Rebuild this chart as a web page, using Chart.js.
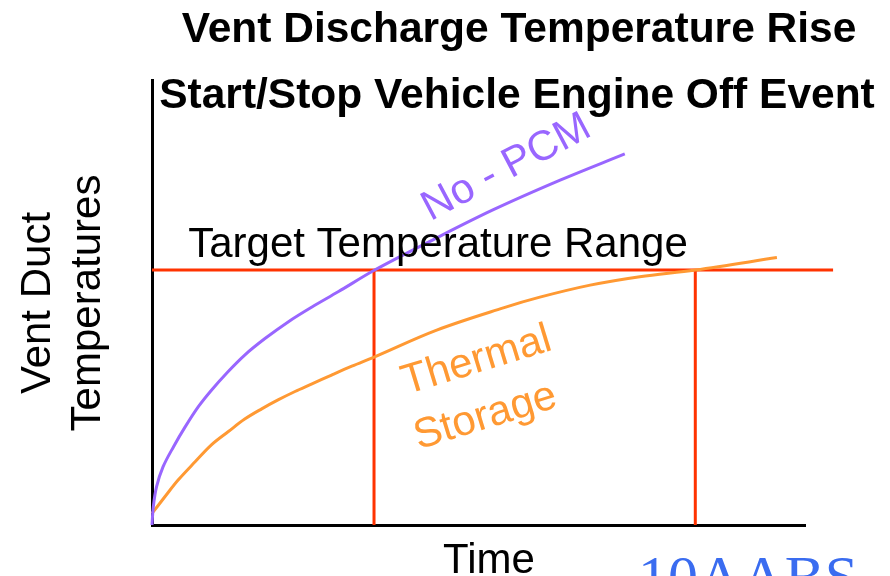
<!DOCTYPE html>
<html lang="en">
<head>
    <meta charset="UTF-8">
    <title>Vent Discharge Temperature Rise</title>
    <script src="https://cdn.jsdelivr.net/npm/chart.js"></script>
    <style>
        body {
            margin: 0;
            padding: 0;
            background-color: #ffffff;
        }
        canvas {
            display: block;
        }
    </style>
</head>
<body>
    <canvas id="ventChart" width="890" height="576"></canvas>
<script>
    // Time (arbitrary units, 0..100) and vent temperature (arbitrary units, 0..100)
    const noPcmTime = [0, 0.2, 0.7, 1.7, 3.3, 5.1, 7.1, 9.1, 11.6, 14.2, 17.3, 20.9, 24.5, 28.5, 34.1, 42.1, 52.2, 62.5, 72.4];
    const noPcmTemp = [0, 4.1, 8.6, 13.1, 17.6, 22.1, 26.6, 30.3, 34.4, 38.2, 41.9, 45.7, 49.0, 52.4, 57.3, 63.4, 70.8, 77.5, 83.4];

    const storageTime = [0, 2, 4, 6.6, 9.1, 11.7, 14.2, 16.8, 19.3, 21.9, 24.5, 27.5, 30.6, 34.1, 43.6, 53.8, 59.4, 67.1, 74.7, 83.2, 95.7];
    const storageTemp = [2.6, 6.4, 10.1, 14.2, 18, 21, 23.8, 26.1, 28.1, 30, 31.7, 33.7, 35.7, 37.8, 43.8, 48.8, 51.2, 53.9, 55.8, 57.3, 60.1];

    const targetTemp = 57.3;
    const targetLineEnd = 104.3;
    const noPcmReach = 34;      // time No-PCM hits target
    const storageReach = 83.2;  // time thermal storage hits target

    const RED = "#ff3300";
    const PURPLE = "#9966ff";
    const ORANGE = "#ff9933";
    const FONT = "'Liberation Sans', Arial, sans-serif";

    function pts(xs, ys) {
        return xs.map((x, i) => ({ x: x, y: ys[i] }));
    }

    // text labels drawn on top of the chart
    const labelsPlugin = {
        id: "labels",
        afterDraw(chart) {
            const ctx = chart.ctx;
            const ys = chart.scales.y;
            ctx.save();
            ctx.textAlign = "center";
            ctx.textBaseline = "alphabetic";

            ctx.fillStyle = "#000";
            ctx.font = "bold 42.5px " + FONT;
            ctx.fillText("Vent Discharge Temperature Rise", 519, 42);
            ctx.fillText("Start/Stop Vehicle Engine Off Event", 517, 108);

            ctx.font = "42px " + FONT;
            ctx.fillText("Target Temperature Range", 438, ys.getPixelForValue(targetTemp) - 13);
            ctx.fillText("Time", 489, 573);

            // y axis title, two lines
            ctx.save();
            ctx.translate(50, 303);
            ctx.rotate(-Math.PI / 2);
            ctx.fillText("Vent Duct", 0, 0);
            ctx.fillText("Temperatures", 0, 50);
            ctx.restore();

            // curve labels
            ctx.save();
            ctx.fillStyle = PURPLE;
            ctx.translate(512, 178);
            ctx.rotate(-28 * Math.PI / 180);
            ctx.fillText("No - PCM", 0, 0);
            ctx.restore();

            ctx.save();
            ctx.fillStyle = ORANGE;
            ctx.translate(480, 372);
            ctx.rotate(-17 * Math.PI / 180);
            ctx.fillText("Thermal", 0, 0);
            ctx.fillText("Storage", -8, 56);
            ctx.restore();

            ctx.fillStyle = "#3a6cf0";
            ctx.font = "60px 'Liberation Serif', 'Times New Roman', serif";
            ctx.textAlign = "left";
            ctx.fillText("10AABS", 638, 597);
            ctx.restore();
        }
    };

    new Chart(document.getElementById("ventChart"), {
        type: "line",
        data: {
            datasets: [
                {
                    label: "No - PCM",
                    data: pts(noPcmTime, noPcmTemp),
                    borderColor: PURPLE,
                    borderWidth: 3,
                    tension: 0.35,
                    pointRadius: 0,
                    clip: false
                },
                {
                    label: "Thermal Storage",
                    data: pts(storageTime, storageTemp),
                    borderColor: ORANGE,
                    borderWidth: 3,
                    tension: 0.35,
                    pointRadius: 0,
                    clip: false
                },
                {
                    label: "Target",
                    data: [{ x: 0, y: targetTemp }, { x: targetLineEnd, y: targetTemp }],
                    borderColor: RED,
                    borderWidth: 3,
                    pointRadius: 0,
                    clip: false
                },
                {
                    label: "No-PCM reach",
                    data: [{ x: noPcmReach, y: targetTemp }, { x: noPcmReach, y: 0 }],
                    borderColor: RED,
                    borderWidth: 3,
                    pointRadius: 0,
                    clip: false
                },
                {
                    label: "Storage reach",
                    data: [{ x: storageReach, y: targetTemp }, { x: storageReach, y: 0 }],
                    borderColor: RED,
                    borderWidth: 3,
                    pointRadius: 0,
                    clip: false
                }
            ]
        },
        options: {
            responsive: false,
            animation: false,
            layout: {
                padding: { left: 144, right: 85, top: 80, bottom: 43 }
            },
            plugins: {
                legend: { display: false },
                tooltip: { enabled: false }
            },
            scales: {
                x: {
                    type: "linear",
                    min: 0,
                    max: 100,
                    ticks: { display: false },
                    grid: { display: false },
                    border: { color: "#000", width: 3 }
                },
                y: {
                    type: "linear",
                    min: 0,
                    max: 100,
                    ticks: { display: false },
                    grid: { display: false },
                    border: { color: "#000", width: 3 }
                }
            }
        },
        plugins: [labelsPlugin]
    });
</script>
</body>
</html>
